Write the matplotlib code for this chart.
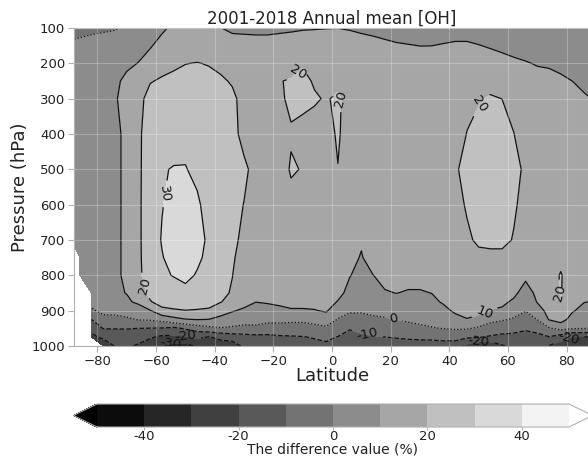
import numpy as np
import matplotlib

matplotlib.use("Agg")
import matplotlib.pyplot as plt

nan = np.nan

# model grid
lat = [-89, -86, -82, -78, -74, -70, -66, -62, -58, -54, -50, -46, -42, -38,
       -34, -30, -26, -22, -18, -14, -10, -6, -2, 2, 6, 10, 14, 18, 22, 26,
       30, 34, 38, 42, 46, 50, 54, 58, 62, 66, 70, 74, 78, 82, 86, 89]
pressure = [100, 150, 200, 250, 300, 400, 500, 600, 700, 750, 800, 850,
            875, 900, 925, 950, 975, 1000]

# difference (%) profiles, one list per latitude (top -> surface)
diff_by_lat = [
    [-3, 1.5, 4, 5.5, 6.5, 7.5, 8, 8, 8, nan, nan, nan, nan, nan, nan, nan, nan, nan],
    [-2.5, 2, 4.5, 6, 7, 8, 8.5, 8.5, 8.5, 8.5, 8.5, nan, nan, nan, nan, nan, nan, nan],
    [-1.8, 3, 5, 6.5, 7.5, 8.5, 9, 9, 9, 9, 8.5, 6, 3, -1.5, -10, -18, -22, nan],
    [-1.2, 3.5, 5.5, 7, 8, 9, 9.3, 9.3, 9.3, 9.2, 9, 7, 5, 2.5, -3, -9.5, -18, -27],
    [-0.6, 4, 6.5, 8, 9.5, 9.6, 9.6, 9.6, 9.6, 9.6, 9.6, 8.5, 6, 3, -3, -9.6, -16, -19.5],
    [1.5, 5, 8, 12.4, 12, 10.4, 10.4, 10.4, 10.4, 10.4, 10.4, 10.3, 8.4, 4, -1.5, -9.5, -15.5, -19],
    [3, 6.5, 10.3, 14, 17.5, 18.3, 18.3, 18.3, 18.3, 18.3, 18, 16, 12, 5, 0.5, -10, -17, -21],
    [5, 9.5, 12.6, 19.5, 23, 25, 25.5, 26, 26, 25.5, 25, 22, 19.5, 9.5, 1, -10.2, -19, -25],
    [9, 12, 17, 21, 24, 27, 29.6, 29.7, 30.5, 29.6, 29, 26, 23, 18, 3, -10.5, -22, -30.5],
    [11.2, 13.5, 18.5, 22, 24.5, 27.5, 30.3, 32, 33, 32.5, 30.3, 27, 24, 19, 7, -12, -22, -33],
    [12, 14.5, 19.8, 23, 25, 28, 30.3, 33, 34, 33.5, 32, 27.7, 23.8, 19.8, 9.5, -8.8, -21.5, -34],
    [12.5, 15, 20.3, 23, 25, 27, 28.5, 31, 33, 31.5, 29.3, 26, 23, 19.5, 10.2, -5, -18.5, -28],
    [11.5, 14.5, 19.5, 22.5, 24, 25.5, 26.5, 27.5, 28.5, 28, 27, 25, 22.5, 19, 9.8, -2.5, -20.5, -26],
    [10.1, 13.5, 17.5, 21.5, 22.5, 23.5, 24.5, 25, 25, 24.5, 23.5, 21.5, 20.3, 16, 6, -0.5, -18, -24],
    [9.1, 12, 15.5, 19, 22, 22.5, 23, 22.5, 22, 21, 20.1, 19.4, 17.5, 11, 3.5, -1, -15.5, -25],
    [8.9, 12, 14, 15.5, 16.7, 17.5, 21.5, 19.8, 18, 16.6, 16.5, 16, 14, 8, 3, -2, -14, -18],
    [8.7, 12, 13.5, 14.5, 15.5, 16, 17.5, 16.5, 16, 16, 16, 15.5, 10.2, 5, 2.5, -1.5, -13, -17],
    [8.7, 12, 13.5, 15, 16, 16, 16.5, 16, 15.5, 15.5, 15.5, 14.5, 11, 6, 2.5, -4, -12.5, -17],
    [9.1, 12, 15, 19.7, 19.3, 17.5, 18, 17, 16, 15.5, 15.5, 14.5, 12, 7.5, 2, -3, -11.5, -16],
    [9.4, 12, 17, 20.6, 20.8, 19.6, 20.4, 18.8, 17, 16.5, 16, 15, 13, 9, 2, -4, -11, -15],
    [9.7, 12, 19.6, 21, 20.4, 19.5, 19.8, 18.5, 17, 16.5, 16, 15, 13, 9, 2, -4, -10.5, -14],
    [9.8, 12, 16, 19.6, 20.4, 18.5, 18, 17, 16.5, 16, 16, 15, 13, 9.5, 3.5, -3, -9.3, -13],
    [9.9, 12, 15.5, 17, 19.7, 18.5, 17.5, 16.5, 16, 15.5, 15, 14.5, 13, 11, 5, -1.5, -8.5, -11.5],
    [9.96, 12, 15, 19, 20.6, 20.5, 19.9, 17, 16, 15, 14, 12, 9.6, 4, -0.5, -6, -10.3, -13],
    [9.7, 12, 15, 17, 18.5, 18, 17.5, 16.5, 15, 12, 10.3, 8, 7, 1.5, -4.5, -9.6, -12, -14],
    [9.1, 12, 14.5, 16, 17, 17, 16.5, 14, 10.8, 9.5, 7.9, 6, 4.5, 1.5, -4, -8, -11.5, -14],
    [8.3, 12, 14.5, 16, 17, 17, 16.5, 15, 14, 13, 9.9, 7, 5, 2.5, -2, -6.5, -10.5, -14],
    [8.2, 11, 14, 15.5, 16.5, 16.5, 16, 15.5, 14.5, 13.5, 12, 9.5, 6.5, 3, -1, -5.5, -10.1, -13.5],
    [7.7, 10.5, 13, 15, 16, 16.5, 16, 15.5, 15, 14, 12.5, 10.1, 7.5, 4, 0.1, -5, -9.6, -13],
    [7.7, 10.2, 13, 15, 16, 16.5, 16, 15.5, 15, 14, 12.5, 9.4, 7, 4, 1.5, -3.5, -9.2, -12.5],
    [7.5, 9.95, 12, 14, 15.5, 16, 16, 15.5, 15, 14, 12.5, 9.4, 7, 4.5, 2.5, -2, -8.5, -13.5],
    [7.6, 9.98, 12, 14, 15.5, 16, 16, 15.5, 15, 14, 12.5, 10.1, 8, 5, 2.5, -0.5, -8, -14],
    [7.8, 10.3, 12.5, 14, 15.5, 16, 16, 16, 15.5, 14.5, 13.5, 12, 11, 7.5, 3.5, 0.3, -7.5, -13.5],
    [8.1, 10.6, 13, 15, 16.5, 18, 19, 18, 17, 16, 15, 13.5, 12.5, 11.5, 7, 1, -6.5, -15],
    [8.1, 10.6, 13, 16, 19, 20.1, 22.5, 20.6, 19, 17, 15.5, 14, 13.5, 13, 9.6, 1, -8.5, -23],
    [7.65, 10.15, 13.5, 17, 19.5, 22, 24, 23.5, 21, 18.5, 16.5, 14.5, 13.5, 12, 8, -1.5, -9.5, -29],
    [7.5, 9.6, 12, 18, 20.6, 23, 24.5, 24, 22, 18, 16, 14, 13, 9.7, 3, -5, -11, -28],
    [7, 9, 11.5, 17.5, 19.95, 22.5, 24, 23.5, 22, 18, 15.5, 13.5, 12, 8.5, 1, -6.5, -12, -21],
    [7, 8.5, 10.8, 16.5, 18, 20.1, 23, 21, 19.5, 17, 14.5, 12, 8.5, 4, -1, -7, -12.5, -17],
    [6.8, 8, 10.3, 14, 16, 17, 18.2, 17.5, 16.5, 15, 12, 6, 3, 0.3, -4.5, -9.3, -12, -15],
    [6.8, 8, 9.7, 11.5, 14, 16, 16.5, 16.5, 16, 15, 14, 12, 10.5, 6, 0.2, -7, -12.5, -17],
    [6.8, 7.8, 9.4, 11.5, 14, 16, 16.5, 16.5, 16.5, 17, 17.5, 16, 14.5, 13, 10.5, -1, -10.5, -20.5],
    [6.7, 7.5, 8.8, 10.8, 13, 15.5, 16.5, 17, 17.5, 18.5, 20.4, 20.4, 19.5, 16, 14, 3, -15, -26],
    [6.6, 7.3, 8.5, 9.98, 12, 15, 16, 16.5, 17, 17.5, 17, 15, 13.5, 11, 6, 1, -21, -28],
    [6.5, 7.2, 8.2, 9, 10.5, 13, 14.5, 15, 15.5, 15.5, 15, 13, 10.3, 6.5, 3, 0.2, -21, -28],
    [6.5, 7.2, 8.2, 9, 9.9, 12, 14, 14.5, 15, 15, 14.5, 12.5, 9.8, 6, 3, -0.2, -20, -27],
]

levels = [-50, -40, -30, -20, -10, 0, 10, 20, 30, 40, 50]
cbar_ticks = [-40, -20, 0, 20, 40]

# where the inline contour labels sit (lat, hPa)
label_spots = [(-66.5, 835), (-56.5, 570), (-12, 222), (3.5, 300), (47, 295),
               (52, 905), (21, 921), (12, 970), (50, 986), (81, 985),
               (77.5, 850), (-55, 993), (-50, 973)]

text_col = "#222222"
edge_col = "#b0b0b0"

diff = np.array(diff_by_lat, dtype=float).T

fig = plt.figure(figsize=(5.88, 4.59), dpi=100)
ax = fig.add_axes([0.1259, 0.2462, 0.8776, 0.6928])

cf = ax.contourf(lat, pressure, diff, levels=levels, cmap="gray", extend="both")
styles = ["dashed" if v < 0 else ("dotted" if v == 0 else "solid") for v in levels]
cs = ax.contour(lat, pressure, diff, levels=levels, colors="#111111",
                linewidths=0.9, linestyles=styles)
ax.clabel(cs, fmt="%d", fontsize=9.5, inline=True, manual=label_spots)

ax.set_xlim(-88, 88)
ax.set_ylim(1000, 100)
ax.set_xticks([-80, -60, -40, -20, 0, 20, 40, 60, 80])
ax.set_yticks([100, 200, 300, 400, 500, 600, 700, 800, 900, 1000])
ax.grid(True, color="white", alpha=0.25, linewidth=0.8)
ax.set_axisbelow(False)

ax.set_title("2001-2018 Annual mean [OH]", fontsize=12, pad=3, color=text_col)
ax.set_xlabel("Latitude", fontsize=13, color=text_col, labelpad=-1)
ax.set_ylabel("Pressure (hPa)", fontsize=13, color=text_col, labelpad=2)
ax.tick_params(labelsize=9.5, labelcolor=text_col, color=edge_col,
               length=4.5, pad=2)
for sp in ax.spines.values():
    sp.set_color(edge_col)

cax = fig.add_axes([0.1248, 0.0697, 0.883, 0.0501])
cb = fig.colorbar(cf, cax=cax, orientation="horizontal", ticks=cbar_ticks)
cb.ax.set_xticklabels([str(t) for t in cbar_ticks])
cb.set_label("The difference value (%)", fontsize=10, color=text_col, labelpad=-1)
cb.ax.tick_params(labelsize=9.5, labelcolor=text_col, color=edge_col,
                  length=2, pad=0.5)
cb.outline.set_edgecolor(edge_col)

fig.savefig("out.png", dpi=100)
